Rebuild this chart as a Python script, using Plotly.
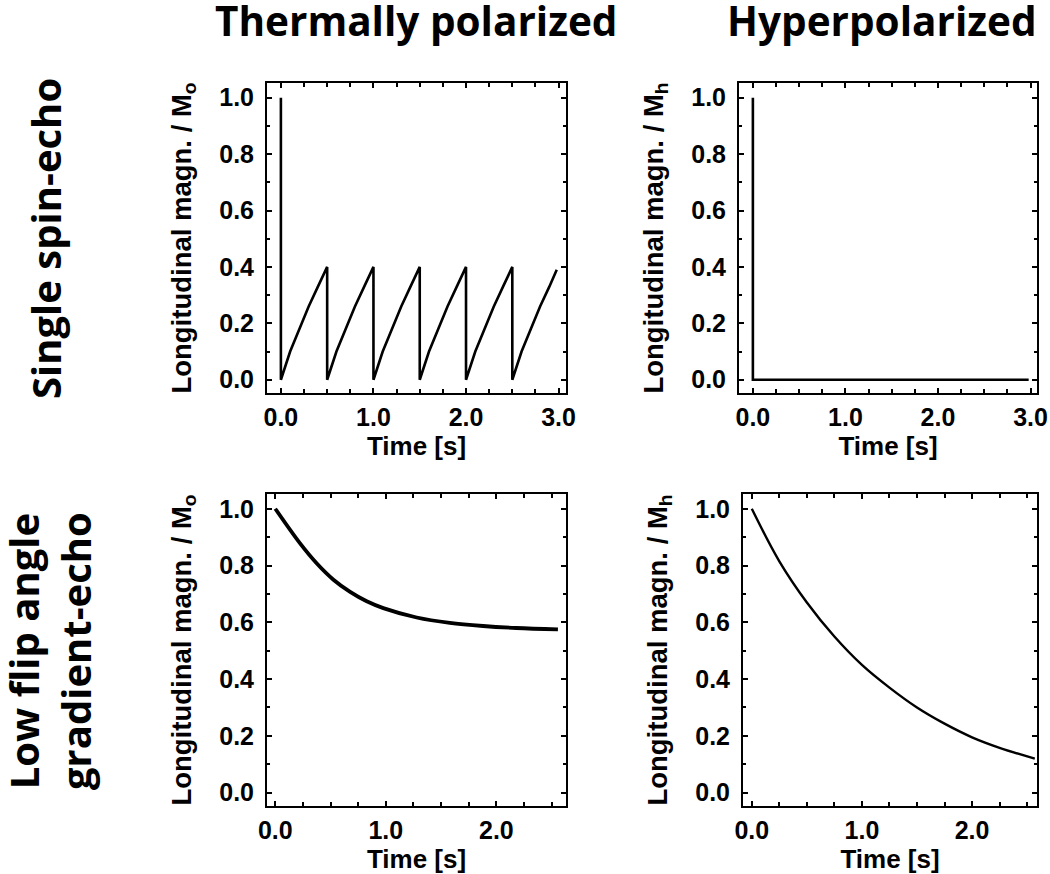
import plotly.graph_objects as go

# ---- data ----
# Single spin-echo, thermally polarized (sawtooth recovery)
t_se_thermal = [0.0, 0.0, 0.1, 0.2, 0.3, 0.4, 0.5,
                0.5, 0.6, 0.7, 0.8, 0.9, 1.0,
                1.0, 1.1, 1.2, 1.3, 1.4, 1.5,
                1.5, 1.6, 1.7, 1.8, 1.9, 2.0,
                2.0, 2.1, 2.2, 2.3, 2.4, 2.5,
                2.5, 2.6, 2.7, 2.8, 2.9, 2.98]
m_se_thermal = [1.0, 0.0, 0.10, 0.18, 0.26, 0.33, 0.40,
                0.0, 0.10, 0.18, 0.26, 0.33, 0.40,
                0.0, 0.10, 0.18, 0.26, 0.33, 0.40,
                0.0, 0.10, 0.18, 0.26, 0.33, 0.40,
                0.0, 0.10, 0.18, 0.26, 0.33, 0.40,
                0.0, 0.10, 0.18, 0.26, 0.33, 0.39]

# Single spin-echo, hyperpolarized
t_se_hyper = [0.0, 0.0, 2.98]
m_se_hyper = [1.0, 0.0, 0.0]

# Low flip angle gradient-echo, thermally polarized
t_ge_thermal = [0.0, 0.226, 0.376, 0.526, 0.677, 0.827, 0.977, 1.279, 1.579, 1.88, 2.18, 2.557]
m_ge_thermal = [1.0, 0.877, 0.807, 0.750, 0.707, 0.674, 0.650, 0.617, 0.598, 0.587, 0.580, 0.575]

# Low flip angle gradient-echo, hyperpolarized
t_ge_hyper = [0.0, 0.25, 0.5, 0.75, 1.0, 1.25, 1.5, 1.75, 2.0, 2.25, 2.57]
m_ge_hyper = [1.0, 0.815, 0.67, 0.55, 0.45, 0.37, 0.30, 0.243, 0.195, 0.158, 0.12]

col_titles = ["Thermally polarized", "Hyperpolarized"]
row_titles = ["Single spin-echo", "Low flip angle<br>gradient-echo"]
y_titles = ["Longitudinal magn. / M<sub>o</sub>", "Longitudinal magn. / M<sub>h</sub>"]
x_title = "Time [s]"

W, H = 1050, 874

def px(x0, x1):
    return [x0 / W, x1 / W]

def py(y0, y1):
    return [1 - y1 / H, 1 - y0 / H]

fig = go.Figure()

panels = [
    (t_se_thermal, m_se_thermal, "x", "y", px(267, 566), py(83, 393), [-0.15, 3.08], [0, 1, 2, 3], y_titles[0], 2.6, "linear"),
    (t_se_hyper, m_se_hyper, "x2", "y2", px(739, 1037), py(83, 393), [-0.15, 3.07], [0, 1, 2, 3], y_titles[1], 2.6, "linear"),
    (t_ge_thermal, m_ge_thermal, "x3", "y3", px(267, 566), py(494, 806), [-0.075, 2.63], [0, 1, 2], y_titles[0], 3.8, "spline"),
    (t_ge_hyper, m_ge_hyper, "x4", "y4", px(743, 1037), py(494, 806), [-0.08, 2.59], [0, 1, 2], y_titles[1], 2.4, "spline"),
]

tickfont = dict(family="Liberation Sans, Arial, sans-serif", size=25, color="black", weight="bold")
titlefont = dict(family="Liberation Sans, Arial, sans-serif", size=26, color="black", weight="bold")
ytitlefont = dict(family="Liberation Sans, Arial, sans-serif", size=27.5, color="black", weight="bold")

for i, (xs, ys, xa, ya, xd, yd, xr, xt, yt, lw, shape) in enumerate(panels):
    fig.add_trace(go.Scatter(x=xs, y=ys, xaxis=xa, yaxis=ya, mode="lines",
                             line=dict(color="black", width=lw, shape=shape, smoothing=1.0),
                             showlegend=False, hoverinfo="skip"))
    sfx = "" if i == 0 else str(i + 1)
    fig.layout["xaxis" + sfx] = dict(
        domain=xd, range=xr, anchor="y" + sfx, automargin=False,
        tickmode="array", tickvals=xt, tickformat=".1f",
        ticks="inside", ticklen=5, tickwidth=2, tickcolor="black",
        minor=dict(dtick=0.25, tick0=0, ticks="inside", ticklen=4, tickwidth=2, tickcolor="black"),
        showline=True, linecolor="black", linewidth=2, mirror="ticks",
        showgrid=False, zeroline=False, tickfont=tickfont,
        ticklabelstandoff=1,
        title=dict(text=x_title, font=titlefont, standoff=0),
    )
    fig.layout["yaxis" + sfx] = dict(
        domain=yd, range=[-0.047, 1.052], anchor="x" + sfx, automargin=False,
        tickmode="array", tickvals=[0, 0.2, 0.4, 0.6, 0.8, 1.0], tickformat=".1f",
        ticks="inside", ticklen=5, tickwidth=2, tickcolor="black",
        minor=dict(dtick=0.1, tick0=0, ticks="inside", ticklen=3, tickwidth=2, tickcolor="black"),
        showline=True, linecolor="black", linewidth=2, mirror="ticks",
        showgrid=False, zeroline=False, tickfont=tickfont,
        ticklabelstandoff=6,
        title=dict(text=yt, font=ytitlefont, standoff=20),
    )

headfont = dict(family="Open Sans, Noto Sans, sans-serif", size=40.5, color="black", weight="bold")
rowfont = dict(family="Open Sans, Noto Sans, sans-serif", size=40, color="black", weight="bold")
annotations = [
    dict(text=col_titles[0], x=416 / W, y=1 - 20 / H, xref="paper", yref="paper",
         showarrow=False, font=headfont, xanchor="center", yanchor="middle"),
    dict(text=col_titles[1], x=882 / W, y=1 - 20 / H, xref="paper", yref="paper",
         showarrow=False, font=headfont, xanchor="center", yanchor="middle"),
    dict(text=row_titles[0], x=46 / W, y=1 - 239 / H, xref="paper", yref="paper",
         showarrow=False, font=rowfont, textangle=-90, xanchor="center", yanchor="middle"),
    dict(text=row_titles[1], x=49 / W, y=1 - 651 / H, xref="paper", yref="paper",
         showarrow=False, font=rowfont, textangle=-90, xanchor="center", yanchor="middle"),
]

fig.update_layout(
    width=W, height=H,
    margin=dict(l=0, r=0, t=0, b=0, autoexpand=False),
    paper_bgcolor="white", plot_bgcolor="white",
    annotations=annotations,
    showlegend=False,
)

fig.write_html("out.html", config={"displayModeBar": False},
               post_script="document.body.style.margin='0';document.body.style.overflow='hidden';")
